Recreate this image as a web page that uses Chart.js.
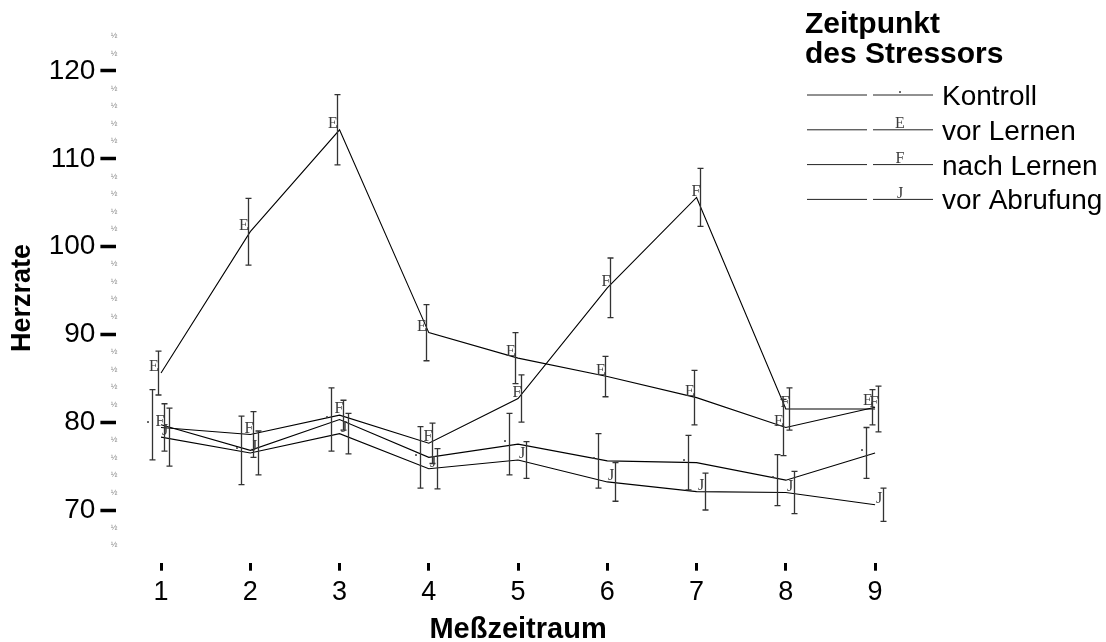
<!DOCTYPE html>
<html>
<head>
<meta charset="utf-8">
<title>Herzrate</title>
<script src="https://cdn.jsdelivr.net/npm/chart.js"></script>
<style>
  body { margin: 0; background: #fff; }
  #herzchart { display: block; }
</style>
</head>
<body>
<canvas id="herzchart" width="1106" height="642"></canvas>
<script>
const periods = [1, 2, 3, 4, 5, 6, 7, 8, 9]; // Meßzeitraum
const yTicks = [70, 80, 90, 100, 110, 120];
const yMinorTicks = [66, 68, 72, 74, 76, 78, 82, 84, 86, 88, 92, 94, 96, 98, 102, 104, 106, 108, 112, 114, 116, 118, 122, 124];
const groupNames = ['Kontroll', 'vor Lernen', 'nach Lernen', 'vor Abrufung'];

// mean heart rate per period, and half length of the error bar
const kontroll = [79.7, 76.8, 80.3, 76.0, 77.5, 75.6, 75.4, 73.4, 76.5];
const kontrollErr = [4.0, 3.9, 3.6, 3.5, 3.5, 3.1, 3.1, 2.9, 2.9];
const vorLernen = [85.6, 101.7, 113.3, 90.2, 87.3, 85.2, 82.8, 79.4, 81.7];
const vorLernenErr = [2.5, 3.8, 4.0, 3.2, 2.9, 2.3, 3.1, 3.2, 2.0];
const nachLernen = [79.4, 78.6, 80.8, 77.6, 82.7, 95.3, 105.6, 81.5, 81.5];
const nachLernenErr = [2.7, 2.6, 1.7, 2.3, 2.7, 3.4, 3.3, 2.4, 2.6];
const vorAbrufung = [78.3, 76.5, 78.7, 74.7, 75.7, 73.2, 72.1, 72.0, 70.6];
const vorAbrufungErr = [3.3, 2.5, 2.3, 2.3, 2.1, 2.2, 2.1, 2.4, 1.9];

const sansFont = '"Liberation Sans", Arial, Helvetica, sans-serif';
const glyphFont = '16px "Liberation Serif", "Times New Roman", serif';

function makeSet(label, values, errors, glyph, shift) {
  return {
    label: label,
    data: periods.map((p, i) => ({ x: p, y: values[i] })),
    errors: errors,
    glyph: glyph,   // the marker is a text glyph, like in the original
    shift: shift,   // cluster offset of bar and marker
    borderColor: '#000',
    borderWidth: 1.1,
    pointRadius: 0,
    tension: 0,
    fill: false
  };
}

// error bars and marker glyphs
const errorBars = {
  id: 'errorBars',
  afterDatasetsDraw(chart) {
    const ctx = chart.ctx;
    const xs = chart.scales.x;
    const ys = chart.scales.y;
    ctx.save();
    chart.data.datasets.forEach(ds => {
      ds.data.forEach((pt, i) => {
        const px = Math.round(xs.getPixelForValue(pt.x + ds.shift)) + 0.5;
        const top = ys.getPixelForValue(pt.y + ds.errors[i]);
        const bottom = ys.getPixelForValue(pt.y - ds.errors[i]);
        ctx.strokeStyle = '#333';
        ctx.lineWidth = 1.3;
        ctx.beginPath();
        ctx.moveTo(px, top); ctx.lineTo(px, bottom);
        ctx.moveTo(px - 3, top); ctx.lineTo(px + 3, top);
        ctx.moveTo(px - 3, bottom); ctx.lineTo(px + 3, bottom);
        ctx.stroke();

        ctx.fillStyle = '#3a3a3a';
        ctx.font = glyphFont;
        ctx.textAlign = 'center';
        ctx.textBaseline = 'middle';
        ctx.fillText(ds.glyph, px - 4.5, ys.getPixelForValue(pt.y) - 6);
      });
    });
    ctx.restore();
  }
};

// minor tick glyphs on the y axis and the rotated y title
const yExtras = {
  id: 'yExtras',
  afterDraw(chart) {
    const ctx = chart.ctx;
    const ys = chart.scales.y;
    ctx.save();
    ctx.fillStyle = '#888';
    ctx.font = '8px ' + sansFont;
    ctx.textAlign = 'center';
    ctx.textBaseline = 'middle';
    yMinorTicks.forEach(v => ctx.fillText('½', 114, ys.getPixelForValue(v)));

    ctx.translate(23, 298);
    ctx.rotate(-Math.PI / 2);
    ctx.fillStyle = '#000';
    ctx.font = 'bold 27px ' + sansFont;
    ctx.fillText('Herzrate', 0, 0);
    ctx.restore();
  }
};

// legend on the top right
const stressLegend = {
  id: 'stressLegend',
  afterDraw(chart) {
    const ctx = chart.ctx;
    ctx.save();
    ctx.fillStyle = '#000';
    ctx.font = 'bold 30px ' + sansFont;
    ctx.textAlign = 'left';
    ctx.textBaseline = 'alphabetic';
    ctx.fillText('Zeitpunkt', 805, 33);
    ctx.fillText('des Stressors', 805, 63);

    chart.data.datasets.forEach((ds, i) => {
      const ly = 95 + i * 34.8;
      ctx.strokeStyle = '#222';
      ctx.lineWidth = 1;
      ctx.beginPath();
      ctx.moveTo(807, ly); ctx.lineTo(867, ly);
      ctx.moveTo(873, ly); ctx.lineTo(933, ly);
      ctx.stroke();

      ctx.fillStyle = '#3a3a3a';
      ctx.font = glyphFont;
      ctx.textAlign = 'center';
      ctx.textBaseline = 'middle';
      ctx.fillText(ds.glyph, 900, ly - 6);

      ctx.fillStyle = '#000';
      ctx.font = '28px ' + sansFont;
      ctx.textAlign = 'left';
      ctx.textBaseline = 'alphabetic';
      ctx.fillText(ds.label, 942, ly + 10);
    });
    ctx.restore();
  }
};

const ctx = document.getElementById('herzchart');

new Chart(ctx, {
  type: 'line',
  data: {
    datasets: [
      makeSet(groupNames[0], kontroll, kontrollErr, '.', -0.1),
      makeSet(groupNames[1], vorLernen, vorLernenErr, 'E', -0.03),
      makeSet(groupNames[2], nachLernen, nachLernenErr, 'F', 0.035),
      makeSet(groupNames[3], vorAbrufung, vorAbrufungErr, 'J', 0.09)
    ]
  },
  options: {
    responsive: false,
    animation: false,
    layout: { padding: { left: 0, right: 186.3, top: 18.3, bottom: 0 } },
    plugins: {
      legend: { display: false },
      tooltip: { enabled: false }
    },
    scales: {
      x: {
        type: 'linear',
        min: 0.5,
        max: 9.5,
        afterBuildTicks: s => { s.ticks = periods.map(v => ({ value: v })); },
        afterFit: s => { s.height = 79.3; s.paddingLeft = 0; s.paddingRight = 0; },
        border: { display: false },
        grid: { drawOnChartArea: false, drawTicks: true, tickLength: 8, tickWidth: 3, tickColor: '#000' },
        ticks: { color: '#000', padding: 6, maxRotation: 0, font: { family: sansFont, size: 27 } },
        title: {
          display: true,
          text: 'Meßzeitraum',
          color: '#000',
          font: { family: sansFont, size: 29, weight: 'bold', lineHeight: 0.8 },
          padding: { top: 0, bottom: 0 }
        }
      },
      y: {
        min: 64,
        max: 126,
        afterBuildTicks: s => { s.ticks = yTicks.map(v => ({ value: v })); },
        afterFit: s => { s.width = 116.4; s.paddingTop = 0; s.paddingBottom = 0; },
        border: { display: false },
        grid: { drawOnChartArea: false, drawTicks: true, tickLength: 16, tickWidth: 3.5, tickColor: '#000' },
        ticks: { color: '#000', padding: 5, font: { family: sansFont, size: 28, lineHeight: 1 } }
      }
    }
  },
  plugins: [errorBars, yExtras, stressLegend]
});
</script>
</body>
</html>
